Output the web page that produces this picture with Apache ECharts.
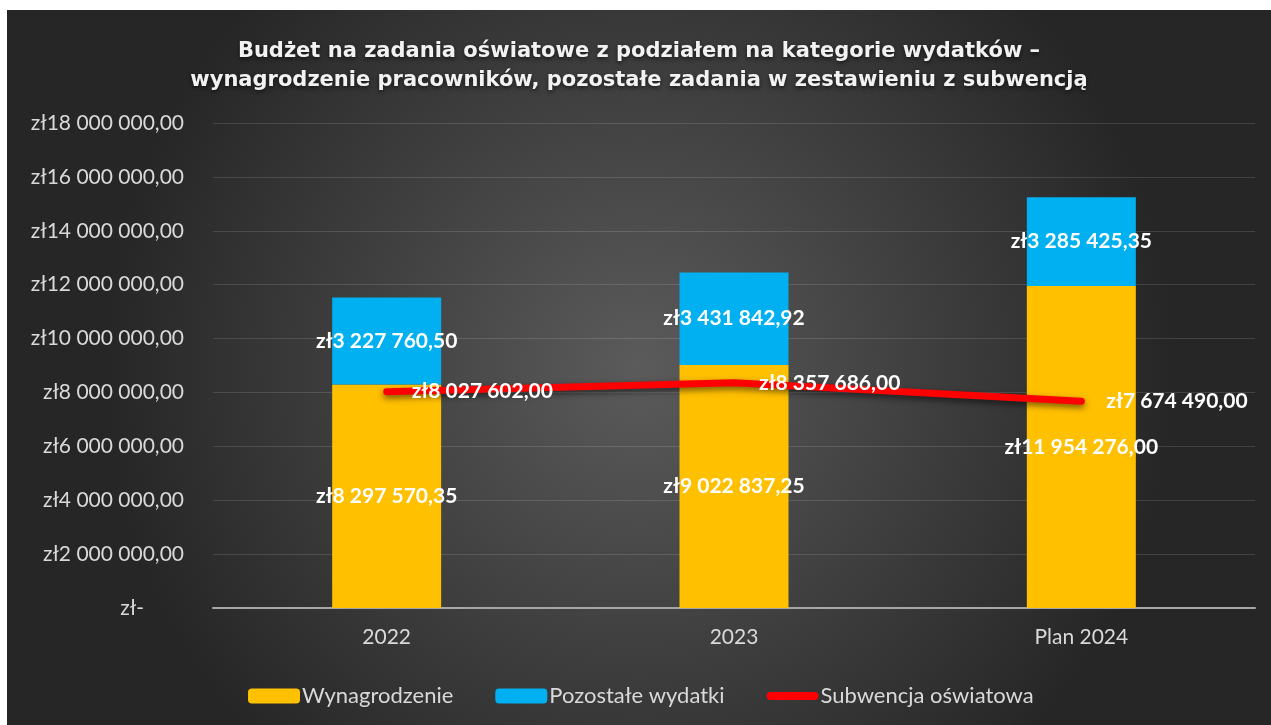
<!DOCTYPE html>
<html>
<head>
<meta charset="utf-8">
<script src="https://cdn.jsdelivr.net/npm/echarts@6/dist/echarts.min.js"></script>
<style>
  html, body { margin: 0; padding: 0; background: #ffffff; overflow: hidden; }
  #chart { position: absolute; left: 7px; top: 10px; width: 1264px; height: 715px; }
</style>
</head>
<body>
<div id="chart"></div>
<script>
  // dane
  var categories = ['2022', '2023', 'Plan 2024'];
  var wynagrodzenie = [8297570.35, 9022837.25, 11954276.00];
  var pozostale = [3227760.50, 3431842.92, 3285425.35];
  var subwencja = [8027602.00, 8357686.00, 7674490.00];
  var seriesNames = ['Wynagrodzenie', 'Pozostałe wydatki', 'Subwencja oświatowa'];
  var yMax = 18000000;
  var yStep = 2000000;

  // format złotówkowy: zł8 297 570,35
  function zl(v) {
    var parts = v.toFixed(2).split('.');
    var i = parts[0].replace(/\B(?=(\d{3})+(?!\d))/g, ' ');
    return 'zł' + i + ',' + parts[1];
  }

  var font = 'Lato, "Open Sans", sans-serif';
  var chart = echarts.init(document.getElementById('chart'));

  var valueLabel = {
    show: true,
    position: 'inside',
    color: '#ffffff',
    fontFamily: font,
    fontWeight: 'bold',
    fontSize: 21,
    formatter: function (p) { return zl(p.value); }
  };

  chart.setOption({
    backgroundColor: {
      type: 'radial', x: 0.5, y: 0.5, r: 0.75,
      colorStops: [
        { offset: 0, color: '#5b5b5b' },
        { offset: 1, color: '#262626' }
      ]
    },
    title: {
      text: 'Budżet na zadania oświatowe z podziałem na kategorie wydatków –\nwynagrodzenie pracowników, pozostałe zadania w zestawieniu z subwencją',
      left: 'center',
      top: 22,
      textStyle: {
        color: '#f2f2f2',
        fontFamily: '"DejaVu Sans", sans-serif',
        fontWeight: 'bold',
        fontSize: 21,
        lineHeight: 29,
        textShadowColor: 'rgba(0,0,0,0.6)',
        textShadowBlur: 4,
        textShadowOffsetY: 2
      }
    },
    legend: {
      left: 236,
      top: 670,
      itemWidth: 52,
      itemHeight: 15,
      itemGap: 42,
      symbolKeepAspect: true,
      textStyle: { color: '#d9d9d9', fontFamily: font, fontSize: 22, padding: [0, 0, 0, -3] },
      data: [
        { name: seriesNames[0] },
        { name: seriesNames[1] },
        { name: seriesNames[2], icon: 'path://M4,0 L48,0 A4,4 0 0 1 48,8 L4,8 A4,4 0 0 1 4,0 Z' }
      ]
    },
    grid: { left: 206, right: 16, top: 113, bottom: 117 },
    xAxis: {
      type: 'category',
      data: categories,
      axisTick: { show: false },
      axisLine: { lineStyle: { color: '#a6a6a6', width: 2 } },
      axisLabel: { color: '#d9d9d9', fontFamily: font, fontSize: 21, margin: 19 }
    },
    yAxis: {
      type: 'value',
      min: 0,
      max: yMax,
      interval: yStep,
      axisLine: { show: false },
      axisTick: { show: false },
      splitLine: { lineStyle: { color: 'rgba(255,255,255,0.13)', width: 1 } },
      axisLabel: {
        color: '#d9d9d9',
        fontFamily: font,
        fontSize: 21,
        margin: 29,
        formatter: function (v) { return v === 0 ? '{z|zł-}' : zl(v); },
        rich: { z: { color: '#d9d9d9', fontFamily: font, fontSize: 21, padding: [0, 40, 0, 0] } }
      }
    },
    series: [
      {
        name: seriesNames[0],
        type: 'bar',
        stack: 'budzet',
        barWidth: 109,
        data: wynagrodzenie,
        itemStyle: { color: '#ffc000' },
        label: valueLabel
      },
      {
        name: seriesNames[1],
        type: 'bar',
        stack: 'budzet',
        barWidth: 109,
        data: pozostale,
        itemStyle: { color: '#00b0f0' },
        label: valueLabel
      },
      {
        name: seriesNames[2],
        type: 'line',
        data: subwencja,
        symbol: 'none',
        z: 5,
        lineStyle: {
          color: '#ff0000',
          width: 7,
          cap: 'round',
          shadowColor: 'rgba(0,0,0,0.55)',
          shadowBlur: 6,
          shadowOffsetY: 3
        },
        itemStyle: { color: '#ff0000' }
      },
      {
        // etykiety subwencji (niewidoczne punkty)
        name: 'etykiety',
        type: 'scatter',
        data: subwencja,
        symbolSize: 2,
        itemStyle: { color: 'rgba(0,0,0,0)', opacity: 1 },
        z: 6,
        silent: true,
        labelLayout: { hideOverlap: false },
        label: {
          show: true,
          position: 'right',
          distance: 24,
          color: '#ffffff',
          opacity: 1,
          fontFamily: font,
          fontWeight: 'bold',
          fontSize: 21,
          formatter: function (p) { return zl(p.value); }
        }
      }
    ]
  });
</script>
</body>
</html>
